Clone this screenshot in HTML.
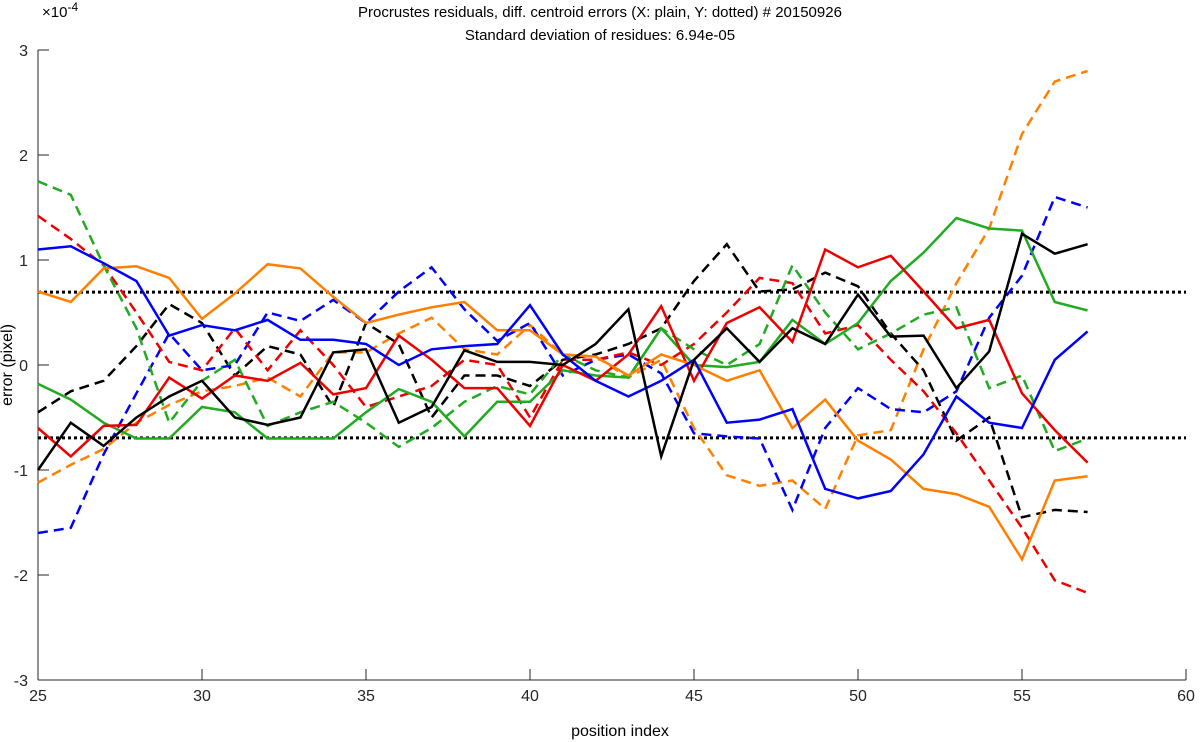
<!DOCTYPE html>
<html><head><meta charset="utf-8"><style>
body{margin:0;background:#fff;}
svg{display:block;font-family:"Liberation Sans",sans-serif;}
</style></head><body>
<svg id="chart" width="1200" height="742">
<text x="600" y="17" text-anchor="middle" font-size="15">Procrustes residuals, diff. centroid errors (X: plain, Y: dotted) # 20150926</text>
<text x="600" y="40" text-anchor="middle" font-size="15">Standard deviation of residues: 6.94e-05</text>
<text x="42" y="17" font-size="15">×10<tspan dy="-6" font-size="12">-4</tspan></text>
<text x="620" y="736" text-anchor="middle" font-size="16">position index</text>
<text transform="translate(12,365) rotate(-90)" text-anchor="middle" font-size="16">error (pixel)</text>
<g id="axes"></g>
<g id="series"></g>
</svg>
<script>
const xIndex=[25,26,27,28,29,30,31,32,33,34,35,36,37,38,39,40,41,42,43,44,45,46,47,48,49,50,51,52,53,54,55,56,57];
const xTicks=[25,30,35,40,45,50,55,60];
const yTicks=[-3,-2,-1,0,1,2,3];
const sigma=0.694;
const blueX=[1.1,1.13,0.97,0.8,0.28,0.38,0.33,0.43,0.24,0.24,0.2,0.0,0.15,0.18,0.2,0.57,0.1,-0.15,-0.3,-0.15,0.05,-0.55,-0.52,-0.42,-1.18,-1.27,-1.2,-0.85,-0.3,-0.55,-0.6,0.05,0.32];
const orangeX=[0.7,0.6,0.92,0.94,0.83,0.44,0.68,0.96,0.92,0.65,0.4,0.48,0.55,0.6,0.33,0.33,0.1,0.08,-0.1,0.1,0.0,-0.15,-0.05,-0.6,-0.33,-0.72,-0.9,-1.18,-1.23,-1.35,-1.85,-1.1,-1.06];
const blackX=[-1.0,-0.55,-0.77,-0.5,-0.3,-0.15,-0.5,-0.57,-0.5,0.12,0.15,-0.55,-0.4,0.14,0.03,0.03,0.0,0.2,0.53,-0.87,0.05,0.35,0.03,0.35,0.2,0.67,0.27,0.28,-0.22,0.13,1.25,1.06,1.15];
const redX=[-0.6,-0.87,-0.58,-0.57,-0.12,-0.32,-0.1,-0.15,0.02,-0.28,-0.22,0.28,0.05,-0.22,-0.22,-0.58,0.0,-0.15,0.1,0.56,-0.15,0.4,0.55,0.22,1.1,0.93,1.04,0.7,0.35,0.43,-0.27,-0.62,-0.93];
const greenX=[-0.18,-0.33,-0.55,-0.7,-0.7,-0.4,-0.45,-0.7,-0.7,-0.7,-0.45,-0.23,-0.35,-0.68,-0.35,-0.35,-0.05,-0.1,-0.12,0.35,0.0,-0.02,0.03,0.43,0.2,0.4,0.8,1.07,1.4,1.3,1.28,0.6,0.52];
const greenY=[1.75,1.62,0.95,0.35,-0.55,-0.15,0.05,-0.58,-0.45,-0.35,-0.55,-0.78,-0.6,-0.35,-0.2,-0.28,0.1,-0.05,-0.12,0.35,0.15,0.0,0.2,0.95,0.5,0.15,0.3,0.48,0.55,-0.22,-0.1,-0.82,-0.7];
const redY=[1.42,1.2,0.95,0.5,0.03,-0.05,0.35,-0.05,0.33,0.0,-0.4,-0.3,-0.2,0.05,0.0,-0.5,0.05,0.05,0.12,0.0,0.2,0.5,0.83,0.78,0.3,0.38,0.05,-0.25,-0.65,-1.1,-1.55,-2.05,-2.17];
const blueY=[-1.6,-1.55,-0.85,-0.27,0.3,-0.05,0.0,0.5,0.42,0.62,0.4,0.7,0.93,0.53,0.23,0.4,-0.1,0.05,0.1,-0.08,-0.65,-0.68,-0.7,-1.38,-0.6,-0.22,-0.42,-0.45,-0.25,0.45,0.85,1.6,1.5];
const blackY=[-0.45,-0.25,-0.15,0.18,0.58,0.4,-0.1,0.18,0.1,-0.4,0.4,0.2,-0.5,-0.1,-0.1,-0.2,0.05,0.1,0.2,0.35,0.8,1.15,0.7,0.72,0.88,0.75,0.3,-0.05,-0.72,-0.5,-1.45,-1.38,-1.4];
const orangeY=[-1.12,-0.95,-0.8,-0.55,-0.38,-0.25,-0.2,-0.12,-0.3,0.12,0.12,0.3,0.45,0.15,0.1,0.38,0.1,0.08,-0.12,0.05,-0.6,-1.05,-1.15,-1.1,-1.37,-0.67,-0.62,0.15,0.78,1.3,2.2,2.7,2.8];

const X0=38,X1=1186,Y0=680,Y1=50;
const sx=v=>X0+(v-25)/(60-25)*(X1-X0);
const sy=v=>Y0-(v+3)/6*(Y0-Y1);
const NS='http://www.w3.org/2000/svg';
const axes=document.getElementById('axes'), ser=document.getElementById('series');
function mk(tag,attrs,parent){const e=document.createElementNS(NS,tag);for(const k in attrs)e.setAttribute(k,attrs[k]);parent.appendChild(e);return e;}
let e=mk('line',{x1:X0,y1:Y0,x2:X1,y2:Y0,stroke:'#262626','stroke-width':1},axes);


e=mk('line',{x1:X0,y1:Y0,x2:X0,y2:Y1,stroke:'#262626','stroke-width':1},axes);


xTicks.forEach(t=>{
 mk('line',{x1:sx(t),y1:Y0,x2:sx(t),y2:Y0-11,stroke:'#262626'},axes);
 const tx=mk('text',{x:sx(t),y:Y0+21,'text-anchor':'middle','font-size':16,fill:'#262626'},axes);
 tx.textContent=t;
 
 
});
yTicks.forEach(t=>{
 mk('line',{x1:X0,y1:sy(t),x2:X0+11,y2:sy(t),stroke:'#262626'},axes);
 const tx=mk('text',{x:X0-10,y:sy(t)+6,'text-anchor':'end','font-size':16,fill:'#262626'},axes);
 tx.textContent=t;
 
 
});
[sigma,-sigma].forEach((s,i)=>{
 const l=mk('line',{x1:X0,y1:sy(s),x2:X1,y2:sy(s),stroke:'#000','stroke-width':3,'stroke-dasharray':'3 3'},ser);
 
 
});
const series=[
 ['orange-y',orangeY,'#ff8000',true],['black-y',blackY,'#000',true],['blue-y',blueY,'#0000ff',true],['red-y',redY,'#ee0000',true],['green-y',greenY,'#22aa22',true],
 ['green-x',greenX,'#22aa22',false],['red-x',redX,'#ee0000',false],['orange-x',orangeX,'#ff8000',false],['blue-x',blueX,'#0000ff',false],['black-x',blackX,'#000',false]
];
series.forEach(([n,vals,c,d])=>{
 const pts=vals.map((v,i)=>sx(xIndex[i]).toFixed(1)+','+sy(v).toFixed(1)).join(' ');
 const p=mk('polyline',{points:pts,fill:'none',stroke:c,'stroke-width':2.5,'stroke-linejoin':'miter'},ser);
 if(d)p.setAttribute('stroke-dasharray','10 6');
 
 
});
</script>
</body></html>
